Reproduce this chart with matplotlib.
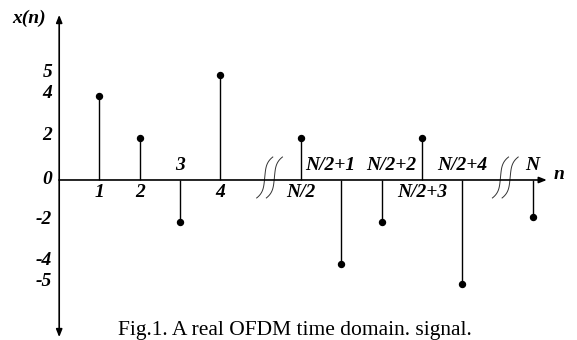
import matplotlib.pyplot as plt
import numpy as np

# sample positions on the n axis (N/2 and N placed after the breaks)
n_pos = [1, 2, 3, 4, 6, 7, 8, 9, 10, 11.75]
x_vals = [4, 2, -2, 5, 2, -4, -2, 2, -5, -1.75]
n_labels = ['1', '2', '3', '4', 'N/2', 'N/2+1', 'N/2+2', 'N/2+3', 'N/2+4', 'N']
y_ticks = [5, 4, 2, 0, -2, -4, -5]
break_pos = [5.22, 11.07]

# horizontal nudges (points) so the crowded labels don't collide
label_nudge = {'N/2+1': -8, 'N/2+2': 7}

tick_font = dict(family='Liberation Serif', weight='bold', style='italic', size=14)

fig = plt.figure(figsize=(5.77, 3.40), dpi=100)
ax = fig.add_axes([0, 0, 1, 1])
ax.set_xlim(-1.469, 12.849)
ax.set_ylim(-7.656, 8.612)
ax.axis('off')

# axes with arrow heads
arrow = dict(arrowstyle='-|>,head_length=0.45,head_width=0.18', lw=1.2,
             color='black', shrinkA=0, shrinkB=0)
ax.annotate('', xy=(0, 7.9), xytext=(0, 0), arrowprops=arrow)
ax.annotate('', xy=(0, -7.52), xytext=(0, 0), arrowprops=arrow)
ax.annotate('', xy=(12.1, 0), xytext=(0, 0), arrowprops=arrow)

# stems
ax.vlines(n_pos, 0, x_vals, color='black', lw=1.0)
ax.plot(n_pos, x_vals, 'o', color='black', ms=4.3)

# n labels, opposite side of the stem
for p, v, lab in zip(n_pos, x_vals, n_labels):
    dy = -9 if v > 0 else 10.5
    ax.annotate(lab, xy=(p, 0), xytext=(label_nudge.get(lab, 0), dy),
                textcoords='offset points', ha='center', va='center', **tick_font)

# y labels
for v in y_ticks:
    ax.annotate(str(v), xy=(0, v), xytext=(-5, 2 if v != 0 else 0),
                textcoords='offset points', ha='right', va='center', **tick_font)

# axis break marks (integral-like squiggles)
u = np.linspace(-1, 1, 60)
for b in break_pos:
    for k in (-0.12, 0.12):
        xs = b + k - 0.15 * np.sign(u) * np.abs(u) ** 4 - 0.05 * u
        ys = 0.12 - 0.98 * u
        ax.plot(xs, ys, color='#333333', lw=0.7)

ax.text(-0.74, 7.75, 'x(n)', ha='center', va='center', **tick_font)
ax.text(12.4, 0.24, 'n', ha='center', va='center', **tick_font)

fig.text(295 / 577, 1 - 335 / 340, 'Fig.1. A real OFDM time domain. signal.',
         ha='center', va='baseline', family='Liberation Serif', size=15.5)

fig.savefig('out.png', dpi=100)
